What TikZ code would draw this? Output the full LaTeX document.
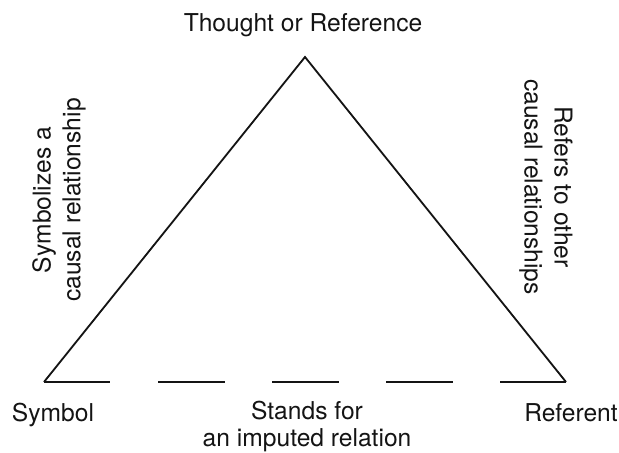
\documentclass[tikz,border=0pt]{standalone}
\usepackage{fontspec}
\setmainfont{TeX Gyre Heros}
\usepackage{xcolor}
\usetikzlibrary{positioning}
\definecolor{ink}{RGB}{20,20,20}
\tikzset{
  side/.style={line width=1.3pt,draw=ink,line join=miter},
  imputed/.style={side,dash pattern=on 1.66cm off 1.193cm},
  txt/.style={font=\fontsize{17.5}{21.3}\selectfont,text=ink,align=center,inner sep=0pt}
}

\begin{document}
\begin{tikzpicture}[x=1cm,y=1cm]
  \useasboundingbox (0,0) rectangle (15.475,11.325);
  \coordinate (thought) at (7.625,9.9);
  \coordinate (symbol) at (1.1,1.775);
  \coordinate (referent) at (14.15,1.775);

  \draw[side] (symbol) -- (thought) -- (referent);
  \draw[imputed] (symbol) -- (referent);

  \node[txt,anchor=base] (thoughtlbl) at (7.575,10.525) {Thought or Reference};
  \node[txt,anchor=base] (symbollbl) at (1.325,0.775) {Symbol};
  \node[txt,anchor=base] (referentlbl) at (14.275,0.775) {Referent};
  \node[txt,anchor=north,font=\fontsize{17.5}{19.4}\selectfont] (standslbl) at (7.675,1.3) {Stands for\\an imputed relation};
  \node[txt,rotate=90] (causelbl) at (1.475,6.325) {Symbolizes a\\causal relationship};
  \node[txt,rotate=-90] (otherlbl) at (13.65,6.65) {Refers to other\\causal relationships};
\end{tikzpicture}
\end{document}
